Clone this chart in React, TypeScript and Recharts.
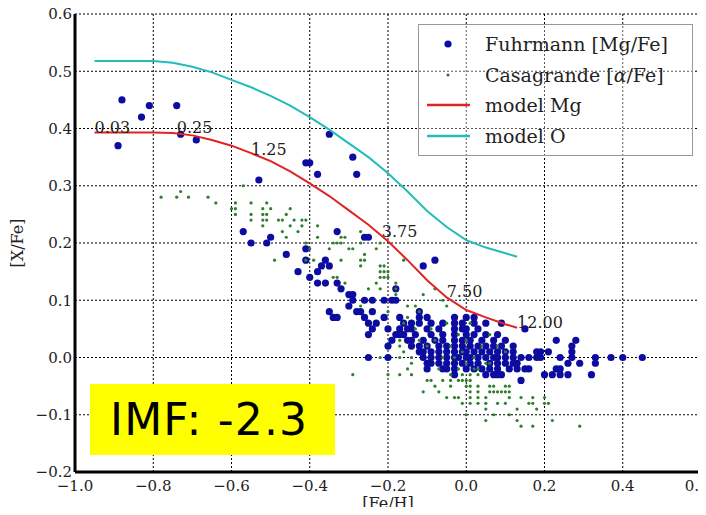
import React from "react";
import { CartesianGrid, Scatter, ScatterChart, XAxis, YAxis } from "recharts";

// axes
const xTicks = [-1.0, -0.8, -0.6, -0.4, -0.2, 0.0, 0.2, 0.4, 0.6];
const yTicks = [-0.2, -0.1, 0.0, 0.1, 0.2, 0.3, 0.4, 0.5, 0.6];

// Fuhrmann [Mg/Fe] vs [Fe/H]
const fuhrmannPts: [number, number][] = [
  [-0.89, 0.37], [-0.88, 0.45], [-0.83, 0.42], [-0.81, 0.44], [-0.74, 0.44], [-0.73, 0.39], [-0.69, 0.38],
  [-0.53, 0.31], [-0.41, 0.34], [-0.40, 0.34], [-0.38, 0.32], [-0.35, 0.39], [-0.29, 0.35], [-0.28, 0.32],
  [-0.57, 0.22], [-0.55, 0.20], [-0.51, 0.20], [-0.50, 0.21], [-0.46, 0.18], [-0.41, 0.19], [-0.33, 0.22],
  [-0.26, 0.21], [-0.25, 0.21],
  [-0.41, 0.17], [-0.36, 0.17], [-0.37, 0.16], [-0.35, 0.16], [-0.43, 0.15], [-0.38, 0.15], [-0.40, 0.14],
  [-0.38, 0.13], [-0.36, 0.13], [-0.33, 0.13], [-0.32, 0.12], [-0.30, 0.11], [-0.29, 0.11], [-0.29, 0.10],
  [-0.30, 0.09], [-0.28, 0.08], [-0.35, 0.08], [-0.34, 0.07], [-0.33, 0.07],
  [-0.11, 0.16], [-0.08, 0.17], [-0.18, 0.12], [-0.26, 0.10], [-0.24, 0.10], [-0.21, 0.10],
  [-0.19, 0.10], [-0.18, 0.10],
  [-0.27, 0.08], [-0.24, 0.08], [-0.12, 0.08],
  [-0.26, 0.07], [-0.21, 0.07], [-0.17, 0.07], [-0.12, 0.07], [-0.10, 0.07], [-0.03, 0.07], [0.00, 0.07], [0.02, 0.07],
  [-0.25, 0.06], [-0.23, 0.06], [-0.16, 0.06], [-0.14, 0.06], [-0.12, 0.06], [-0.09, 0.06], [-0.06, 0.06],
  [-0.03, 0.06], [-0.01, 0.06], [0.02, 0.06], [0.05, 0.06], [0.09, 0.06],
  [-0.24, 0.05], [-0.20, 0.05], [-0.17, 0.05], [-0.15, 0.05], [-0.14, 0.05], [-0.10, 0.05], [-0.07, 0.05],
  [-0.03, 0.05], [-0.01, 0.05], [0.00, 0.05], [0.03, 0.05], [0.15, 0.05],
  [-0.25, 0.04], [-0.18, 0.04], [-0.17, 0.04], [-0.16, 0.04], [-0.13, 0.04], [-0.09, 0.04], [-0.06, 0.04],
  [-0.03, 0.04], [0.00, 0.04], [0.02, 0.04], [0.05, 0.04], [0.08, 0.04],
  [-0.19, 0.03], [-0.15, 0.03], [-0.14, 0.03], [-0.11, 0.03], [-0.08, 0.03], [-0.06, 0.03], [-0.03, 0.03],
  [-0.01, 0.03], [0.01, 0.03], [0.04, 0.03], [0.07, 0.03], [0.10, 0.03], [0.23, 0.03], [0.28, 0.03],
  [-0.20, 0.02], [-0.14, 0.02], [-0.12, 0.02], [-0.10, 0.02], [-0.07, 0.02], [-0.05, 0.02], [-0.03, 0.02],
  [-0.01, 0.02], [0.01, 0.02], [0.03, 0.02], [0.05, 0.02], [0.07, 0.02], [0.09, 0.02], [0.12, 0.02], [0.27, 0.02],
  [-0.12, 0.01], [-0.11, 0.01], [-0.09, 0.01], [-0.07, 0.01], [-0.05, 0.01], [-0.03, 0.01], [-0.01, 0.01],
  [0.00, 0.01], [0.02, 0.01], [0.04, 0.01], [0.06, 0.01], [0.08, 0.01], [0.10, 0.01], [0.12, 0.01],
  [0.18, 0.01], [0.19, 0.01], [0.21, 0.01], [0.27, 0.01],
  [-0.25, 0.00], [-0.20, 0.00], [-0.11, 0.00], [-0.09, 0.00], [-0.07, 0.00], [-0.05, 0.00], [-0.03, 0.00],
  [-0.02, 0.00], [0.00, 0.00], [0.01, 0.00], [0.03, 0.00], [0.05, 0.00], [0.07, 0.00], [0.08, 0.00],
  [0.10, 0.00], [0.12, 0.00], [0.14, 0.00], [0.16, 0.00], [0.18, 0.00], [0.19, 0.00], [0.24, 0.00],
  [0.27, 0.00], [0.33, 0.00], [0.37, 0.00], [0.40, 0.00], [0.45, 0.00],
  [-0.10, -0.01], [-0.09, -0.01], [-0.07, -0.01], [-0.05, -0.01], [-0.03, -0.01], [-0.01, -0.01], [0.01, -0.01],
  [0.03, -0.01], [0.06, -0.01], [0.08, -0.01], [0.10, -0.01], [0.12, -0.01], [0.13, -0.01], [0.26, -0.01],
  [0.29, -0.01], [0.33, -0.01],
  [-0.10, -0.02], [-0.06, -0.02], [-0.05, -0.02], [-0.03, -0.02], [0.00, -0.02], [0.02, -0.02], [0.04, -0.02],
  [0.06, -0.02], [0.08, -0.02], [0.11, -0.02], [0.13, -0.02], [0.15, -0.02], [0.16, -0.02], [0.23, -0.02], [0.24, -0.02],
  [-0.03, -0.03], [0.05, -0.03], [0.07, -0.03], [0.08, -0.03], [0.09, -0.03], [0.20, -0.03], [0.22, -0.03],
  [0.24, -0.03], [0.26, -0.03], [0.32, -0.03],
  [0.14, -0.04],
];

// Casagrande [alpha/Fe] vs [Fe/H]
const casagrandePts: [number, number][] = [
  [-0.78, 0.28], [-0.74, 0.28], [-0.73, 0.29], [-0.71, 0.28], [-0.66, 0.28], [-0.64, 0.27], [-0.57, 0.30],
  [-0.60, 0.26], [-0.59, 0.27], [-0.59, 0.26], [-0.59, 0.25],
  [-0.55, 0.27], [-0.55, 0.25], [-0.55, 0.24],
  [-0.52, 0.26], [-0.51, 0.27], [-0.51, 0.25], [-0.52, 0.25], [-0.51, 0.24], [-0.52, 0.24], [-0.52, 0.23], [-0.50, 0.26],
  [-0.48, 0.24], [-0.47, 0.24], [-0.46, 0.25], [-0.45, 0.26], [-0.44, 0.24], [-0.42, 0.24], [-0.41, 0.24],
  [-0.45, 0.23], [-0.42, 0.23], [-0.47, 0.22], [-0.46, 0.21], [-0.43, 0.22], [-0.49, 0.17],
  [-0.41, 0.20], [-0.40, 0.19], [-0.41, 0.17], [-0.39, 0.17], [-0.38, 0.23], [-0.38, 0.21],
  [-0.34, 0.20], [-0.33, 0.20], [-0.32, 0.20], [-0.35, 0.19], [-0.30, 0.19], [-0.29, 0.19],
  [-0.32, 0.21], [-0.31, 0.21], [-0.27, 0.22], [-0.27, 0.20], [-0.23, 0.19], [-0.22, 0.20], [-0.26, 0.18],
  [-0.32, 0.17], [-0.27, 0.17], [-0.22, 0.16], [-0.22, 0.15], [-0.21, 0.15], [-0.20, 0.15],
  [-0.16, 0.17], [-0.20, 0.14], [-0.34, 0.14], [-0.33, 0.14], [-0.31, 0.13], [-0.25, 0.12], [-0.22, 0.12],
  [-0.23, 0.13], [-0.18, 0.11], [-0.11, 0.11], [-0.08, 0.12],
  [-0.27, 0.16], [-0.26, 0.17], [-0.21, 0.16], [-0.22, 0.14], [-0.21, 0.14], [-0.18, 0.13], [-0.18, 0.12],
  [-0.06, 0.10], [-0.05, 0.09], [-0.13, 0.09], [-0.15, 0.09],
  [-0.27, 0.09], [-0.20, 0.08], [-0.17, 0.03], [-0.22, 0.00], [-0.17, 0.00], [-0.14, 0.00],
  [-0.17, 0.02], [-0.16, 0.01],
  [-0.29, -0.03], [-0.20, -0.03], [-0.17, -0.03], [-0.15, -0.02], [-0.14, -0.03], [-0.14, -0.01],
  [-0.16, 0.06], [-0.15, 0.07], [-0.13, 0.05], [-0.12, 0.08], [-0.09, 0.05], [-0.08, 0.03], [-0.05, 0.06],
  [-0.04, 0.02], [-0.02, 0.04], [0.00, 0.03], [0.01, 0.06], [0.02, 0.00], [0.04, 0.02], [0.05, -0.01],
  [0.06, 0.04], [-0.06, 0.00], [-0.10, 0.02], [-0.12, 0.03], [-0.02, -0.02], [-0.01, 0.01], [0.03, -0.02],
  [0.08, 0.02], [-0.07, -0.02], [-0.04, -0.03], [-0.03, 0.00], [0.00, -0.01], [0.01, -0.03], [0.02, -0.02],
  [-0.01, -0.03], [0.03, -0.03], [0.06, -0.01], [0.10, 0.01],
  [-0.10, -0.04], [-0.09, -0.04], [-0.06, -0.04], [-0.04, -0.04], [-0.02, -0.04], [-0.01, -0.04], [0.00, -0.04], [0.01, -0.04],
  [-0.08, -0.05], [-0.04, -0.05], [0.00, -0.05], [0.01, -0.05], [0.03, -0.05], [0.06, -0.05], [0.07, -0.05],
  [0.10, -0.05], [0.11, -0.05],
  [-0.11, -0.06], [-0.07, -0.06], [0.01, -0.06], [0.03, -0.06], [0.06, -0.06], [0.07, -0.06], [0.08, -0.06],
  [0.09, -0.06], [0.10, -0.06], [0.11, -0.06],
  [-0.05, -0.07], [-0.03, -0.07], [-0.02, -0.07], [0.01, -0.07], [0.03, -0.07], [0.05, -0.07], [0.11, -0.07],
  [0.14, -0.07], [0.17, -0.07], [0.20, -0.07],
  [-0.01, -0.08], [0.01, -0.08], [0.03, -0.08], [0.05, -0.08], [0.08, -0.08], [0.10, -0.08], [0.16, -0.08],
  [0.17, -0.08], [0.20, -0.08], [0.21, -0.08],
  [0.05, -0.09], [0.13, -0.09], [0.18, -0.09],
  [0.00, -0.10], [0.07, -0.10], [0.11, -0.10],
  [0.05, -0.11], [0.13, -0.11], [0.22, -0.11],
  [0.14, -0.12], [0.17, -0.12], [0.29, -0.12],
];

// chemical evolution models
const modelMgPts: [number, number][] = [
  [-0.95, 0.393], [-0.9, 0.393], [-0.8, 0.393], [-0.75, 0.392], [-0.7, 0.388], [-0.65, 0.38],
  [-0.6, 0.37], [-0.55, 0.357], [-0.5, 0.343], [-0.45, 0.325], [-0.4, 0.304], [-0.35, 0.282],
  [-0.3, 0.257], [-0.25, 0.232], [-0.2, 0.203], [-0.15, 0.17], [-0.1, 0.135], [-0.05, 0.105],
  [0.0, 0.083], [0.05, 0.07], [0.1, 0.058], [0.13, 0.052],
];
const modelOPts: [number, number][] = [
  [-0.95, 0.518], [-0.9, 0.518], [-0.8, 0.518], [-0.75, 0.515], [-0.7, 0.508], [-0.65, 0.498],
  [-0.6, 0.485], [-0.55, 0.472], [-0.5, 0.457], [-0.45, 0.44], [-0.4, 0.42], [-0.35, 0.398],
  [-0.3, 0.374], [-0.25, 0.35], [-0.2, 0.322], [-0.15, 0.29], [-0.1, 0.256], [-0.05, 0.228],
  [0.0, 0.205], [0.05, 0.192], [0.1, 0.182], [0.13, 0.176],
];

// age labels (Gyr) along model Mg
const ageX = [-0.95, -0.74, -0.55, -0.216, -0.05, 0.13];
const ageY = [0.393, 0.392, 0.353, 0.21, 0.105, 0.052];
const ageText = ["0.03", "0.25", "1.25", "3.75", "7.50", "12.00"];

const toXY = (pts: [number, number][]) => pts.map(([x, y]) => ({ x, y }));
const fuhrmann = toXY(fuhrmannPts);
const casagrande = toXY(casagrandePts);
const modelMg = toXY(modelMgPts);
const modelO = toXY(modelOPts);
const ages = ageX.map((x, i) => ({ x, y: ageY[i], label: ageText[i] }));

const BLUE = "#0c0ca0";
const GREEN = "#2f7f2f";
const RED = "#e02424";
const CYAN = "#22bcbc";
const SERIF = "'DejaVu Serif', serif";
const frame = { stroke: "#000", strokeWidth: 3 };

const fmt = (v: number) => (v < 0 ? "\u2212" : "") + Math.abs(v).toFixed(1);

const blueDot = (p: any) => <circle cx={p.cx} cy={p.cy} r={3.6} fill={BLUE} />;
const greenDot = (p: any) => <circle cx={p.cx} cy={p.cy} r={1.6} fill={GREEN} />;
const noDot = () => <g />;
const ageLabel = (p: any) => (
  <text x={p.cx} y={p.cy} fontSize={16} fontFamily={SERIF} fill="#222">
    {p.payload.label}
  </text>
);

function XLabel(props: any) {
  const vb = props.viewBox || { x: 75, width: 626, y: 472 };
  return (
    <text x={vb.x + vb.width / 2} y={vb.y + 37} textAnchor="middle" fontSize={16} fontFamily={SERIF} fill="#222">
      [Fe/H]
    </text>
  );
}

function YLabel(props: any) {
  const vb = props.viewBox || { y: 14, height: 458 };
  const cy = vb.y + vb.height / 2;
  return (
    <text
      x={23}
      y={cy}
      transform={`rotate(-90, 23, ${cy})`}
      textAnchor="middle"
      fontSize={16}
      fontFamily={SERIF}
      fill="#222"
    >
      [X/Fe]
    </text>
  );
}

function LegendBox() {
  const rows = [
    { kind: "dot", color: BLUE, r: 3.6, text: "Fuhrmann [Mg/Fe]" },
    { kind: "dot", color: GREEN, r: 1.6, text: "Casagrande [" },
    { kind: "line", color: RED, text: "model Mg" },
    { kind: "line", color: CYAN, text: "model O" },
  ];
  return (
    <div
      style={{
        position: "absolute",
        left: 418,
        top: 24,
        width: 273,
        height: 130,
        border: "1px solid #999",
        background: "rgba(255,255,255,0.35)",
        fontFamily: SERIF,
        fontSize: 19,
        color: "#222",
      }}
    >
      {rows.map((r, i) => (
        <div
          key={i}
          style={{ position: "absolute", left: 0, top: 6 + i * 30.7, height: 26, display: "flex", alignItems: "center" }}
        >
          <svg width={60} height={26} style={{ display: "block" }}>
            {r.kind === "dot" ? (
              <circle cx={29} cy={13} r={r.r} fill={r.color} />
            ) : (
              <line x1={8} x2={51} y1={13} y2={13} stroke={r.color} strokeWidth={2.5} />
            )}
          </svg>
          <span style={{ marginLeft: 6, whiteSpace: "nowrap" }}>
            {r.text}
            {i === 1 && (
              <>
                <i>α</i>/Fe]
              </>
            )}
          </span>
        </div>
      ))}
    </div>
  );
}

export default function App() {
  return (
    <div
      style={{
        position: "relative",
        width: 706,
        height: 515,
        margin: -8,
        background: "#fff",
        overflow: "hidden",
      }}
    >
      <ScatterChart
        width={706}
        height={515}
        margin={{ top: 14, right: 5, bottom: 0, left: 15 }}
        style={{ fontFamily: SERIF }}
      >
        <CartesianGrid stroke="#000" strokeDasharray="2 2" strokeWidth={1} />
        <XAxis
          type="number"
          dataKey="x"
          domain={[-1.0, 0.6]}
          ticks={xTicks}
          tickFormatter={fmt}
          tickLine={false}
          tickSize={0}
          tickMargin={8}
          axisLine={frame}
          height={43}
          tick={{ fill: "#222", fontSize: 15, fontFamily: SERIF }}
          allowDataOverflow
          label={<XLabel />}
        />
        <XAxis
          xAxisId="top"
          orientation="top"
          type="number"
          domain={[-1.0, 0.6]}
          ticks={xTicks}
          tick={false}
          tickLine={false}
          axisLine={frame}
          height={0}
        />
        <YAxis
          type="number"
          dataKey="y"
          domain={[-0.2, 0.6]}
          ticks={yTicks}
          tickFormatter={fmt}
          tickLine={false}
          tickSize={0}
          tickMargin={3}
          axisLine={frame}
          width={60}
          tick={{ fill: "#222", fontSize: 15, fontFamily: SERIF }}
          allowDataOverflow
          label={<YLabel />}
        />
        <YAxis
          yAxisId="right"
          orientation="right"
          type="number"
          domain={[-0.2, 0.6]}
          ticks={yTicks}
          tick={false}
          tickLine={false}
          axisLine={frame}
          width={0}
        />
        <Scatter name="Fuhrmann [Mg/Fe]" data={fuhrmann} shape={blueDot} isAnimationActive={false} />
        <Scatter name="Casagrande [α/Fe]" data={casagrande} shape={greenDot} isAnimationActive={false} />
        <Scatter
          name="model Mg"
          data={modelMg}
          shape={noDot}
          line={{ stroke: RED, strokeWidth: 2 }}
          isAnimationActive={false}
        />
        <Scatter
          name="model O"
          data={modelO}
          shape={noDot}
          line={{ stroke: CYAN, strokeWidth: 2 }}
          isAnimationActive={false}
        />
        <Scatter name="ages" data={ages} shape={ageLabel} isAnimationActive={false} />
      </ScatterChart>
      <LegendBox />
      <div
        style={{
          position: "absolute",
          left: 90,
          top: 384,
          width: 245,
          height: 71,
          background: "#ffff00",
          display: "flex",
          alignItems: "center",
          paddingLeft: 20,
          boxSizing: "border-box",
          fontFamily: "'DejaVu Sans', sans-serif",
          fontSize: 44,
          letterSpacing: 1.2,
          color: "#000",
        }}
      >
        IMF: -2.3
      </div>
    </div>
  );
}
